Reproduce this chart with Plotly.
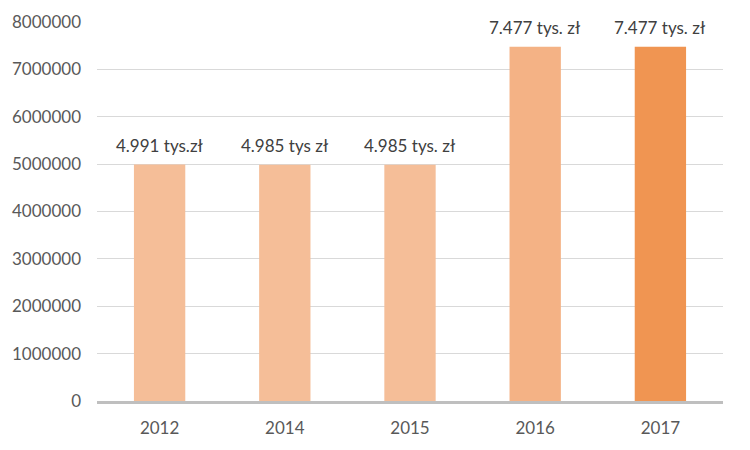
import plotly.graph_objects as go

years = ["2012", "2014", "2015", "2016", "2017"]
values = [4991000, 4985000, 4985000, 7477000, 7477000]
labels = ["4.991 tys.zł", "4.985 tys zł", "4.985 tys. zł", "7.477 tys. zł", "7.477 tys. zł"]
colors = ["#F5BE98", "#F5BE98", "#F5BE98", "#F4B285", "#F09552"]
y_ticks = [0, 1000000, 2000000, 3000000, 4000000, 5000000, 6000000, 7000000, 8000000]

fig = go.Figure(go.Bar(
    x=years, y=values,
    marker=dict(color=colors, line=dict(width=0)),
    hoverinfo="x+y",
))

# category index of each bar for the value labels
for idx, (v, lab) in enumerate(zip(values, labels)):
    fig.add_annotation(
        x=idx, y=v, text=lab, showarrow=False, yanchor="bottom", yshift=7,
        font=dict(family="Lato", size=17, color="#404040"),
    )

fig.update_layout(
    width=750, height=450,
    margin=dict(l=97, r=27, t=22, b=49),
    paper_bgcolor="white", plot_bgcolor="white",
    bargap=0.59,
    showlegend=False,
    font=dict(family="Lato", size=17, color="#595959"),
)
fig.update_yaxes(
    range=[0, 8000000], tickvals=y_ticks, ticktext=[str(v) for v in y_ticks],
    showgrid=True, gridcolor="#D9D9D9", gridwidth=1, zeroline=False,
    showline=False, ticks="", ticklabelstandoff=15,
    tickfont=dict(family="Lato", size=17, color="#595959"),
)
fig.update_xaxes(
    type="category",
    showline=True, linecolor="#BFBFBF", linewidth=3, ticks="",
    tickfont=dict(family="Lato", size=17, color="#595959"),
    ticklabelstandoff=10,
)

fig.write_html("out.html")
